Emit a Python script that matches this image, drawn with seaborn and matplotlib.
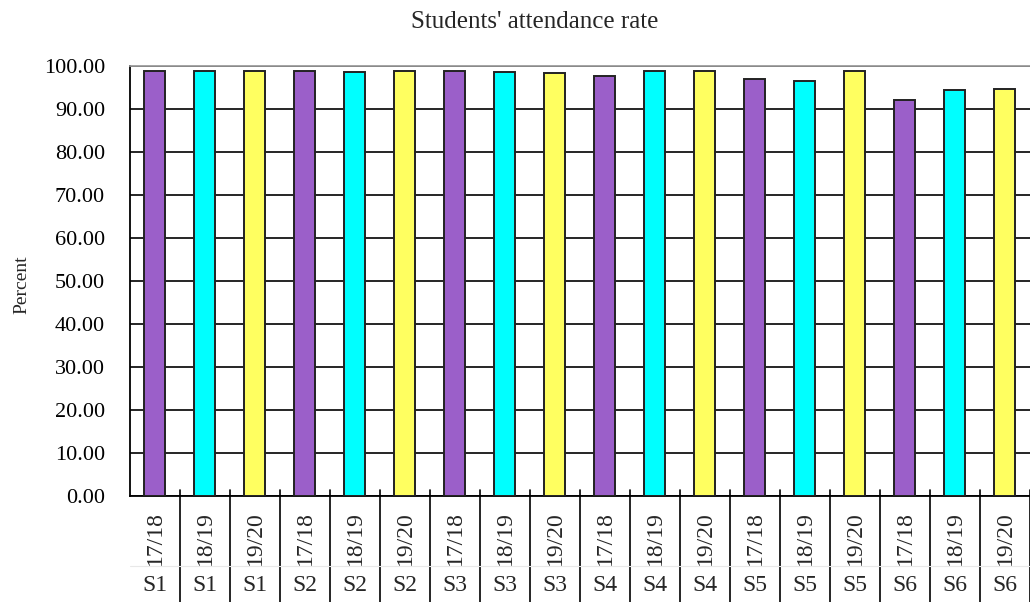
import pandas as pd
import matplotlib.pyplot as plt
import matplotlib.transforms as mtransforms
import seaborn as sns

# Data
schools = ['S1', 'S1', 'S1', 'S2', 'S2', 'S2', 'S3', 'S3', 'S3',
           'S4', 'S4', 'S4', 'S5', 'S5', 'S5', 'S6', 'S6', 'S6']
years = ['17/18', '18/19', '19/20'] * 6
attendance = [98.8, 98.8, 98.8, 98.8, 98.5, 98.8, 98.8, 98.5, 98.4,
              97.7, 98.8, 98.8, 97.0, 96.6, 98.8, 92.1, 94.3, 94.7]
year_colors = {'17/18': '#9b5fc9', '18/19': '#00ffff', '19/20': '#ffff60'}

df = pd.DataFrame({'school': schools, 'year': years, 'percent': attendance})
df['slot'] = [f'{s} {y}' for s, y in zip(schools, years)]

sns.set_theme(style='white')
plt.rcParams['font.family'] = ['Liberation Serif', 'DejaVu Serif']

fig = plt.figure(figsize=(10.3, 6.02), dpi=100)
ax = fig.add_axes([0.1262, 0.1761, 0.8738, 0.7143])

sns.barplot(data=df, x='slot', y='percent', hue='year', palette=year_colors,
            dodge=False, width=0.42, saturation=1, edgecolor='#222222',
            linewidth=1.4, legend=False, ax=ax, zorder=3)

ax.set_ylim(0, 100)
ax.set_xlim(-0.5, len(df) - 0.5)
ax.set_yticks(range(0, 101, 10))
ax.set_yticklabels([f'{v:.2f}' for v in range(0, 101, 10)])
ax.yaxis.grid(True, color='black', linewidth=1.2, zorder=0)
ax.tick_params(axis='y', length=0, pad=18, labelsize=16, colors='black')
ax.set_xticks([])
ax.set_xlabel('')
ax.set_ylabel('')
fig.text(22 / 1030, 1 - 285 / 602, 'Percent', rotation=90, ha='center',
         va='center', fontsize=14)
fig.text(535 / 1030, 1 - 22 / 602, "Students' attendance rate",
         ha='center', va='center', fontsize=18)

for side in ['left', 'bottom']:
    ax.spines[side].set_color('black')
    ax.spines[side].set_linewidth(1.3)
ax.spines['top'].set_color('#999999')
ax.spines['right'].set_visible(False)

# Two-level category labels below the axis
trans = mtransforms.blended_transform_factory(ax.transData, ax.transAxes)
for i, row in df.iterrows():
    ax.text(i, -0.035, row['year'], rotation=90, ha='center', va='top',
            fontsize=17, transform=trans)
    ax.text(i, -0.208, row['school'], ha='center', va='center',
            fontsize=17, transform=trans)
for k in range(1, len(df) + 1):
    ax.plot([k - 0.5, k - 0.5], [0.014, -0.26], color='black', linewidth=1.2,
            transform=trans, clip_on=False)
ax.plot([-0.5, len(df) - 0.5], [-0.163, -0.163], color='#e8e8e8',
        linewidth=0.8, transform=trans, clip_on=False)

fig.savefig('out.png', dpi=100)
